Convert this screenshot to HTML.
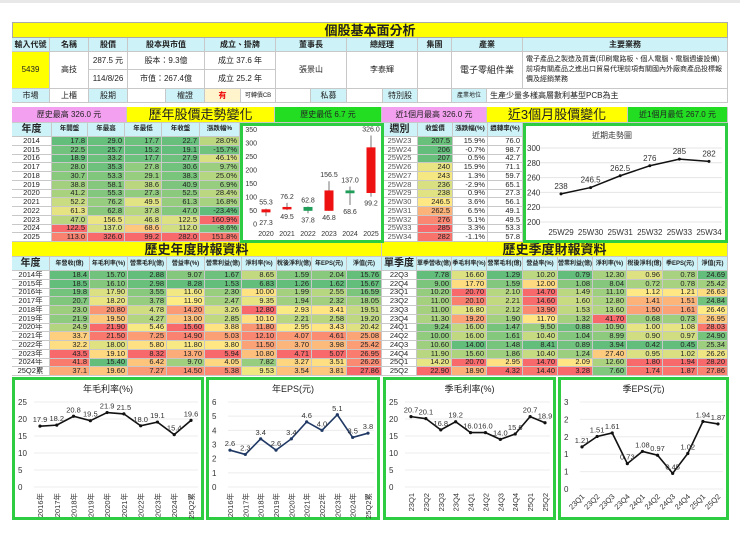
<!DOCTYPE html>
<html><head><meta charset="utf-8">
<style>
body{margin:0;width:740px;height:538px;background:#fff;position:relative;overflow:hidden;font-family:"Liberation Sans","Noto Sans CJK TC",sans-serif;}
.c{position:absolute;box-sizing:border-box;border-right:1px solid #c8c8c8;border-bottom:1px solid #c8c8c8;font-size:8px;line-height:1;display:flex;align-items:center;justify-content:center;color:#222;white-space:nowrap;overflow:hidden;}
.r{font-size:7.5px;line-height:8px;}
.h{background:#cdf3f8;font-weight:bold;}
.n{justify-content:flex-end;padding-right:2px;}
svg text{font-family:"Liberation Sans","Noto Sans CJK TC",sans-serif;}
</style></head>
<body>
<div style="position:absolute;left:0;top:0;width:740px;height:3px;background:#e8e8e8"></div>
<div id="root"></div>
<script>
// ---------- data ----------
const yearLabels=['2014','2015','2016','2017','2018','2019','2020','2021','2022','2023','2024','2025'];
const yOpen=[17.8,22.5,18.9,28.0,30.7,38.8,41.2,52.2,61.3,47.0,122.5,113.0];
const yHigh=[29.0,25.7,33.2,35.3,53.3,58.1,55.3,76.2,62.8,156.5,137.0,326.0];
const yLow=[17.7,15.2,17.7,27.8,29.1,38.6,27.3,49.5,37.8,46.8,68.6,99.2];
const yClose=[22.7,19.1,27.9,30.6,38.3,40.9,52.5,61.3,47.0,122.5,112.0,282.0];
const yChg=[28.0,-15.7,46.1,9.7,25.0,6.9,28.4,16.8,-23.4,160.9,-8.6,151.8];
const weeks=['25W23','25W24','25W25','25W26','25W27','25W28','25W29','25W30','25W31','25W32','25W33','25W34'];
const wClose=[207.5,206,207,240,243,236,238,246.5,262.5,276,285,282];
const wChg=[15.9,-0.7,0.5,15.9,1.3,-2.9,0.9,3.6,6.5,5.1,3.3,-1.1];
const wTurn=[76.0,98.7,42.7,71.1,59.7,65.1,27.3,56.1,49.1,49.5,53.3,57.8];
const finYears=['2014年','2015年','2016年','2017年','2018年','2019年','2020年','2021年','2022年','2023年','2024年','25Q2累'];
const fyRev=[18.4,18.5,19.8,20.7,23.0,21.9,24.9,33.7,32.2,43.5,41.8,37.1];
const fyGM=[15.70,16.10,17.90,18.20,20.80,19.50,21.90,21.50,18.00,19.10,15.40,19.60];
const fyGP=[2.88,2.98,3.55,3.78,4.78,4.27,5.46,7.25,5.80,8.32,6.42,7.27];
const fyOM=[9.07,8.28,11.60,11.90,14.20,13.00,15.60,14.90,11.80,13.70,9.70,14.50];
const fyOP=[1.67,1.53,2.30,2.47,3.26,2.85,3.88,5.03,3.80,5.94,4.05,5.38];
const fyNM=[8.65,6.83,10.00,9.35,12.80,10.10,11.80,12.10,11.50,10.80,7.82,9.53];
const fyNI=[1.59,1.26,1.99,1.94,2.93,2.21,2.95,4.07,3.70,4.71,3.27,3.54];
const fyEPS=[2.04,1.62,2.55,2.32,3.41,2.58,3.43,4.61,3.98,5.07,3.51,3.81];
const fyNAV=[15.76,15.67,16.59,18.05,19.51,19.20,20.42,25.08,25.42,26.95,26.26,27.86];
const quarters=['22Q3','22Q4','23Q1','23Q2','23Q3','23Q4','24Q1','24Q2','24Q3','24Q4','25Q1','25Q2'];
const fqRev=[7.78,9.00,10.20,11.00,11.00,11.30,9.24,10.00,10.60,11.90,14.20,22.90];
const fqGM=[16.60,17.70,20.70,20.10,16.80,19.20,16.00,16.00,14.00,15.60,20.70,18.90];
const fqGP=[1.29,1.59,2.10,2.21,2.12,1.90,1.47,1.61,1.48,1.86,2.95,4.32];
const fqOM=[10.20,12.00,14.70,14.60,13.90,11.70,9.50,10.40,8.41,10.40,14.70,14.40];
const fqOP=[0.79,1.08,1.49,1.60,1.53,1.32,0.88,1.04,0.89,1.24,2.09,3.28];
const fqNM=[12.30,8.04,11.10,12.80,13.60,41.70,10.90,8.99,3.94,27.40,12.60,7.60];
const fqNI=[0.96,0.72,1.12,1.41,1.50,0.68,1.00,0.90,0.42,0.95,1.80,1.74];
const fqEPS=[0.78,0.78,1.21,1.51,1.61,0.73,1.08,0.97,0.45,1.02,1.94,1.87];
const fqNAV=[24.69,25.42,26.63,24.84,26.46,26.95,28.03,24.90,25.34,26.26,28.20,27.86];
const candleYears=['2020','2021','2022','2023','2024','2025'];
const cOpen=[41.2,52.2,61.3,47.0,122.5,113.0];
const cHigh=[55.3,76.2,62.8,156.5,137.0,326.0];
const cLow=[27.3,49.5,37.8,46.8,68.6,99.2];
const cClose=[52.5,61.3,47.0,122.5,112.0,282.0];
const trendWeeks=['25W29','25W30','25W31','25W32','25W33','25W34'];
const trendVals=[238,246.5,262.5,276,285,282];
const gmYears=['2016年','2017年','2018年','2019年','2020年','2021年','2022年','2023年','2024年','25Q2累'];
const gmYearVals=[17.9,18.2,20.8,19.5,21.9,21.5,18.0,19.1,15.4,19.6];
const epsYearVals=[2.6,2.3,3.4,2.6,3.4,4.6,4.0,5.1,3.5,3.8];
const qLabels=['23Q1','23Q2','23Q3','23Q4','24Q1','24Q2','24Q3','24Q4','25Q1','25Q2'];
const gmQVals=[20.7,20.1,16.8,19.2,16.0,16.0,14.0,15.6,20.7,18.9];
const epsQVals=[1.21,1.51,1.61,0.73,1.08,0.97,0.45,1.02,1.94,1.87];

// ---------- helpers ----------
const root=document.getElementById('root');
function cell(x,y,w,h,txt,cls,name,extra){
  const d=document.createElement('div');
  d.className='c '+(cls||'');
  d.style.left=x+'px';d.style.top=y+'px';d.style.width=w+'px';d.style.height=h+'px';
  if(extra)d.style.cssText+=extra;
  d.textContent=txt;
  
  
  root.appendChild(d);return d;
}
function scaleColor(v,arr){
  const mn=Math.min(...arr),mx=Math.max(...arr);const t=mx===mn?0.5:(v-mn)/(mx-mn);
  const g=[99,190,123],yy=[255,235,132],r=[248,105,107];
  let a,b,u;if(t<0.5){a=g;b=yy;u=t*2}else{a=yy;b=r;u=(t-0.5)*2}
  return 'rgb('+a.map((c,i)=>Math.round(c+(b[i]-c)*u)).join(',')+')';
}
// ---------- header section ----------
cell(12,22,716,16,'個股基本面分析','', 'title-bar','background:#ffff00;font-size:13px;font-weight:bold;border:1px solid #aaa');
const hx=[12,50,89,128,205,276,347,418,452,523,728];
const ht=['輸入代號','名稱','股價','股本與市值','成立、掛牌','董事長','總經理','集團','產業','主要業務'];
for(let i=0;i<10;i++)cell(hx[i],38,hx[i+1]-hx[i],14,ht[i],'h','header-'+i);
cell(12,52,38,37,'5439','','stock-code','background:#ffff00');
cell(50,52,39,37,'高技','','stock-name');
cell(89,52,39,18,'287.5 元','','price');
cell(89,70,39,19,'114/8/26','','price-date');
cell(128,52,77,18,'股本：9.3億','','capital');
cell(128,70,77,19,'市值：267.4億','','market-cap');
cell(205,52,71,18,'成立 37.6 年','','founded');
cell(205,70,71,19,'成立 25.2 年','','listed');
cell(276,52,71,37,'張景山','','chairman');
cell(347,52,71,37,'李泰輝','','ceo');
cell(418,52,34,37,'','','group');
cell(452,52,71,37,'電子零組件業','','industry','font-size:9px');
cell(523,52,205,37,'電子產品之製造及買賣(印刷電路板、個人電腦、電腦週邊設備)前項有關產品之進出口貿易代理前項有關國內外廠商產品投標報價及經銷業務','','business','white-space:normal;justify-content:flex-start;text-align:left;font-size:7px;line-height:10px;padding:0 3px');
const mx=[12,50,89,128,166,205,241,276,311,347,383,418,452,487,728];
const mt=['市場','上櫃','股期','','權證','有','可轉債CB','','私募','','特別股','','產業地位','生產少量多樣高層數利基型PCB為主'];
for(let i=0;i<14;i++){
  let st='';if([0,2,4,8,10,12].includes(i))st='background:#cdf3f8';
  if(i===5)st='background:#fff4cc;color:#e00;font-weight:bold';
  if(i===6||i===12)st+=';font-size:6px';
  if(i===13)st='justify-content:flex-start;padding-left:3px';
  cell(mx[i],89,mx[i+1]-mx[i],14,mt[i],'','market-row-'+i,st);
}
// banners
cell(12,107,115,16,'歷史最高 326.0 元','','hist-high','background:#f4a0f0');
cell(127,107,148,16,'歷年股價走勢變化','','yearly-title','background:#ffff00;font-size:13px');
cell(275,107,107,16,'歷史最低 6.7 元','','hist-low','background:#22dd22');
cell(382,107,105,16,'近1個月最高 326.0 元','','month-high','background:#f4a0f0');
cell(487,107,141,16,'近3個月股價變化','','month3-title','background:#ffff00;font-size:13px');
cell(628,107,100,16,'近1個月最低 267.0 元','','month-low','background:#22dd22');
// year table
const yx=[12,52,88,125,162,200,240];
const yh=['年度','年開盤','年最高','年最低','年收盤','漲跌幅%'];
for(let i=0;i<6;i++)cell(yx[i],123,yx[i+1]-yx[i],14,yh[i],'h','year-header-'+i,i===0?'font-size:10px':'font-size:6.5px');
const RH=8.75;
yearLabels.forEach((lab,r)=>{
  const y=137+r*RH;
  cell(12,y,40,RH,lab,'r','year-row-'+lab);
  [yOpen,yHigh,yLow,yClose].forEach((arr,k)=>cell(yx[k+1],y,yx[k+2]-yx[k+1],RH,arr[r].toFixed(1),'n r','year-val',"background:"+scaleColor(arr[r],arr)));
  cell(200,y,40,RH,yChg[r].toFixed(1)+'%','n r','year-chg',"background:"+scaleColor(yChg[r],yChg));
});
// weekly table
const wx=[382,418,453,488,523];
const wh=['週別','收盤價','漲跌幅(%)','週轉率(%)'];
for(let i=0;i<4;i++)cell(wx[i],123,wx[i+1]-wx[i],14,wh[i],'h','week-header-'+i,i===0?'font-size:10px':'font-size:6.5px');
weeks.forEach((w,r)=>{
  const y=137+r*RH;
  cell(382,y,36,RH,w,'r','week-row-'+w,'color:#555');
  cell(418,y,35,RH,String(wClose[r]),'n r','week-close',"background:"+scaleColor(wClose[r],wClose));
  cell(453,y,35,RH,wChg[r].toFixed(1)+'%','n r','week-chg');
  cell(488,y,35,RH,wTurn[r].toFixed(1),'n r','week-turn');
});
// fin titles
cell(12,242,370,15,'歷史年度財報資料','','annual-fin-title','background:#ffff00;font-size:13px;font-weight:bold');
cell(382,242,346,15,'歷史季度財報資料','','quarter-fin-title','background:#ffff00;font-size:13px;font-weight:bold');
function finTable(x0,widths,heads,labels,cols,fmt,pref){
  let x=x0;const xs=[x];widths.forEach(w=>{x+=w;xs.push(x)});
  heads.forEach((h,i)=>cell(xs[i],257,widths[i],14,h,'h',pref+'-header-'+i,i===0?'font-size:10px':'font-size:6px'));
  labels.forEach((lab,r)=>{
    const y=271+r*RH;
    cell(xs[0],y,widths[0],RH,lab,'r',pref+'-row-'+lab);
    cols.forEach((arr,k)=>cell(xs[k+1],y,widths[k+1],RH,arr[r].toFixed(fmt[k]),'n r',pref+'-val',"background:"+scaleColor(arr[r],arr)));
  });
}
finTable(12,[38,40,38,39,38,37,35,35,35,35],['年度','年營收(億)','年毛利率(%)','營業毛利(億)','營益率(%)','營業利益(億)','淨利率(%)','稅後淨利(億)','年EPS(元)','淨值(元)'],finYears,[fyRev,fyGM,fyGP,fyOM,fyOP,fyNM,fyNI,fyEPS,fyNAV],[1,2,2,2,2,2,2,2,2],'annual');
finTable(382,[35,35,35,36,35,35,34,36,35,30],['單季度','單季營收(億)','季毛利率(%)','營業毛利(億)','營益率(%)','營業利益(億)','淨利率(%)','稅後淨利(億)','季EPS(元)','淨值(元)'],quarters,[fqRev,fqGM,fqGP,fqOM,fqOP,fqNM,fqNI,fqEPS,fqNAV],[2,2,2,2,2,2,2,2,2],'quarter');

// ---------- SVG charts ----------
const NS='http://www.w3.org/2000/svg';
const svg=document.createElementNS(NS,'svg');
svg.setAttribute('width','740');svg.setAttribute('height','538');
svg.style.cssText='position:absolute;left:0;top:0;pointer-events:none';


document.body.appendChild(svg);
function el(tag,attrs,txt){const e=document.createElementNS(NS,tag);for(const k in attrs)e.setAttribute(k,attrs[k]);if(txt!==undefined)e.textContent=txt;svg.appendChild(e);return e;}
function frame(x,y,w,h,name){
  const r=el('rect',{x:x+1.5,y:y+1.5,width:w-3,height:h-3,fill:'#fff',stroke:'#2ecc40','stroke-width':3});
  
}
// candle chart
frame(240,123,144,120,'candle-chart');
const cy=v=>223.5-v*0.27;
const cx=i=>266+i*21;
[0,50,100,150,200,250,300,350].forEach(t=>{
  const tl=el('text',{x:257,y:cy(t)+3,'font-size':7,'text-anchor':'end',fill:'#333'},String(t));
  
});
candleYears.forEach((yr,i)=>{
  const up=cClose[i]>=cOpen[i];const col=up?'#ee1111':'#1f9e5a';
  const ln=el('line',{x1:cx(i),x2:cx(i),y1:cy(cHigh[i]),y2:cy(cLow[i]),stroke:'#777','stroke-width':1});
  
  const top=cy(Math.max(cOpen[i],cClose[i])),bot=cy(Math.min(cOpen[i],cClose[i]));
  const r=el('rect',{x:cx(i)-4.5,y:top,width:9,height:Math.max(1,bot-top),fill:col});
  
  el('text',{x:cx(i),y:cy(cHigh[i])-4,'font-size':7,'text-anchor':'middle',fill:'#333'},cHigh[i].toFixed(1));
  el('text',{x:cx(i),y:cy(cLow[i])+9,'font-size':7,'text-anchor':'middle',fill:'#333'},cLow[i].toFixed(1));
  const xl=el('text',{x:cx(i),y:236,'font-size':7,'text-anchor':'middle',fill:'#333'},yr);
  
});
// trend chart
frame(523,123,205,120,'trend-chart');
el('text',{x:612,y:138,'font-size':8,'text-anchor':'middle',fill:'#333'},'近期走勢圖');
const ty=v=>222-(v-200)*0.74;
const tx=i=>561+i*29.6;
[200,220,240,260,280,300].forEach(t=>{
  el('line',{x1:540,x2:722,y1:ty(t),y2:ty(t),stroke:'#e4e4e4'});
  el('text',{x:527,y:ty(t)+3,'font-size':8,fill:'#333'},String(t));
});
el('polyline',{points:trendVals.map((v,i)=>tx(i)+','+ty(v)).join(' '),fill:'none',stroke:'#111','stroke-width':1.5});
trendVals.forEach((v,i)=>{
  el('circle',{cx:tx(i),cy:ty(v),r:1.5,fill:'#111'});
  el('text',{x:tx(i),y:ty(v)-5,'font-size':8,'text-anchor':'middle',fill:'#333'},String(v));
  el('text',{x:tx(i),y:235,'font-size':8,'text-anchor':'middle',fill:'#333'},trendWeeks[i]);
});
// line charts
function lineChart(o){
  frame(o.x0,377,o.x1-o.x0,143,o.name);
  el('text',{x:(o.x0+o.x1)/2,y:392,'font-size':9,'text-anchor':'middle',fill:'#222'},o.title);
  const y=v=>o.yb-(v/o.max)*(o.yb-o.yt);
  const x=i=>o.px0+i*(o.px1-o.px0)/(o.vals.length-1);
  o.ticks.forEach((t,k)=>{
    el('line',{x1:o.x0+22,x2:o.x1-6,y1:y(t),y2:y(t),stroke:'#ececec'});
    el('text',{x:o.x0+6,y:y(t)+3,'font-size':8,fill:'#333'},o.tickLabels[k]);
  });
  const pl=el('polyline',{points:o.vals.map((v,i)=>x(i)+','+y(v)).join(' '),fill:'none',stroke:o.color,'stroke-width':1.6});
  
  o.vals.forEach((v,i)=>{
    el('circle',{cx:x(i),cy:y(v),r:1.6,fill:o.color});
    el('text',{x:x(i),y:y(v)-4,'font-size':7.5,'text-anchor':'middle',fill:'#333'},v.toFixed(o.dec));
    const lx=x(i),ly=o.yb+6;
    if(o.rot===-90) el('text',{x:lx+3,y:ly,'font-size':7.5,'text-anchor':'end',fill:'#333',transform:'rotate(-90 '+(lx+3)+' '+ly+')'},o.labels[i]);
    else el('text',{x:lx+3,y:ly+2,'font-size':7.5,'text-anchor':'end',fill:'#333',transform:'rotate(-45 '+(lx+3)+' '+(ly+2)+')'},o.labels[i]);
  });
}
const pctTicks=[0,5,10,15,20,25];
const epsTicks=[0,1,2,3,4,5,6];
const qEpsTicks=[0,0.5,1,1.5,2,2.5];
lineChart({name:'annual-gross-margin-chart',x0:12,x1:204,title:'年毛利率(%)',vals:gmYearVals,labels:gmYears,ticks:pctTicks,tickLabels:pctTicks.map(String),max:25,yt:402,yb:487,px0:40,px1:191,color:'#111',dec:1,rot:-90});
lineChart({name:'annual-eps-chart',x0:206,x1:380,title:'年EPS(元)',vals:epsYearVals,labels:gmYears,ticks:epsTicks,tickLabels:epsTicks.map(String),max:6,yt:402,yb:487,px0:230,px1:368,color:'#1f3864',dec:1,rot:-90});
lineChart({name:'quarter-gross-margin-chart',x0:383,x1:556,title:'季毛利率(%)',vals:gmQVals,labels:qLabels,ticks:pctTicks,tickLabels:pctTicks.map(String),max:25,yt:402,yb:487,px0:411,px1:545,color:'#111',dec:1,rot:-90});
lineChart({name:'quarter-eps-chart',x0:558,x1:729,title:'季EPS(元)',vals:epsQVals,labels:qLabels,ticks:qEpsTicks,tickLabels:['0','1','1','2','2','3'],max:2.5,yt:402,yb:489,px0:582,px1:718,color:'#111',dec:2,rot:-45});
</script>
</body></html>
